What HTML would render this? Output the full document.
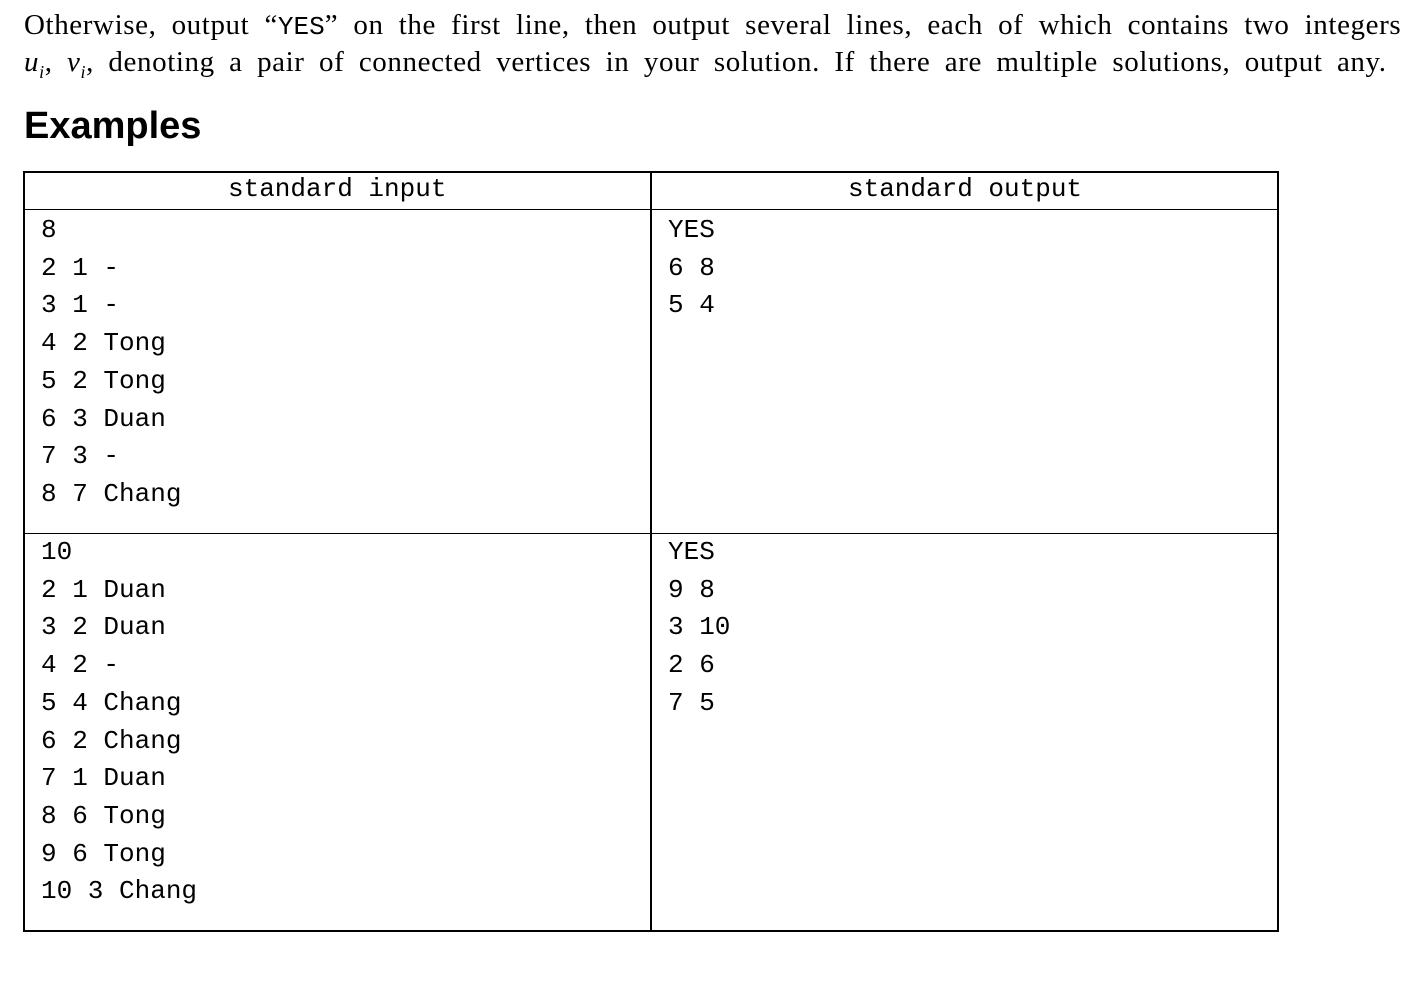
<!DOCTYPE html>
<html><head><meta charset="utf-8"><style>
body{margin:0;width:1408px;height:989px;background:#fff;position:relative;overflow:hidden;color:#000}
.t{position:absolute;font-family:"Liberation Serif",serif;font-size:29px;white-space:nowrap;line-height:1;word-spacing:7px;letter-spacing:0.6px}
.m{position:absolute;font-family:"Liberation Mono",monospace;font-size:26px;white-space:pre;line-height:1}
.l{position:absolute;background:#000}
</style></head><body>
<div class="t" style="left:24px;top:11px;word-spacing:7.3px">Otherwise, output “<span style="font-family:'Liberation Mono',monospace;font-size:26px;letter-spacing:0">YES</span>” on the first line, then output several lines, each of which contains two integers</div>
<div class="t" style="left:24px;top:48px;word-spacing:6.6px"><i>u<sub style="font-size:18px">i</sub></i>, <i>v<sub style="font-size:18px">i</sub></i>, denoting a pair of connected vertices in your solution. If there are multiple solutions, output any.</div>
<div class="t" style="left:24px;top:107px;font-family:'Liberation Sans',sans-serif;font-weight:bold;font-size:38px;word-spacing:0;letter-spacing:0">Examples</div>
<div class="l" style="left:24px;top:171px;width:1255px;height:2px"></div>
<div class="l" style="left:24px;top:209px;width:1255px;height:1px"></div>
<div class="l" style="left:24px;top:533px;width:1255px;height:1px"></div>
<div class="l" style="left:24px;top:930px;width:1255px;height:2px"></div>
<div class="l" style="left:23px;top:171px;width:2px;height:761px"></div>
<div class="l" style="left:650px;top:171px;width:2px;height:761px"></div>
<div class="l" style="left:1277px;top:171px;width:2px;height:761px"></div>
<div class="m" style="left:228px;top:176px">standard input</div>
<div class="m" style="left:848px;top:176px">standard output</div>
<div class="m" style="left:41px;top:212px;line-height:37.7px">8
2 1 -
3 1 -
4 2 Tong
5 2 Tong
6 3 Duan
7 3 -
8 7 Chang</div>
<div class="m" style="left:668px;top:212px;line-height:37.7px">YES
6 8
5 4</div>
<div class="m" style="left:41px;top:534px;line-height:37.7px">10
2 1 Duan
3 2 Duan
4 2 -
5 4 Chang
6 2 Chang
7 1 Duan
8 6 Tong
9 6 Tong
10 3 Chang</div>
<div class="m" style="left:668px;top:534px;line-height:37.7px">YES
9 8
3 10
2 6
7 5</div>
</body></html>
